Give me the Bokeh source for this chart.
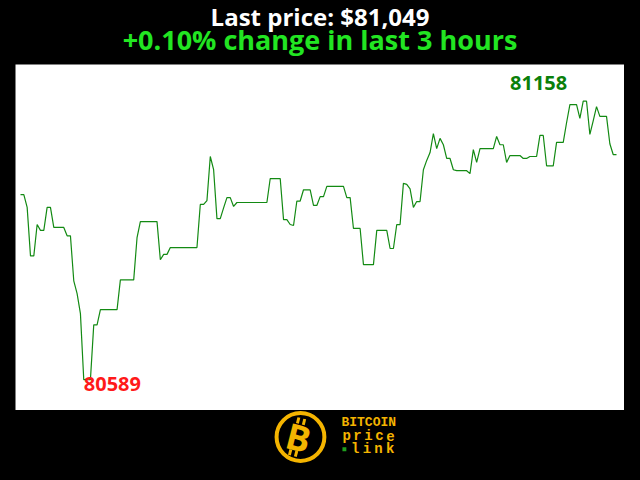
from bokeh.plotting import figure
from bokeh.layouts import column
from bokeh.models import Range1d, GlobalInlineStyleSheet
from bokeh.core.properties import value
from bokeh.embed import file_html
from bokeh.resources import INLINE

# ---- data: BTC price, one point per minute over the last 3 hours ----
prices = [
    80967, 80967, 80941, 80842, 80842, 80906, 80894, 80894, 80941, 80941,
    80900, 80900, 80900, 80900, 80883, 80883, 80791, 80765, 80724, 80589,
    80589, 80589, 80701, 80701, 80732, 80732, 80732, 80732, 80732, 80732,
    80793, 80793, 80793, 80793, 80793, 80879, 80912, 80912, 80912, 80912,
    80912, 80912, 80834, 80845, 80845, 80859, 80859, 80859, 80859, 80859,
    80859, 80859, 80859, 80859, 80947, 80947, 80955, 81045, 81018, 80918,
    80918, 80940, 80961, 80961, 80943, 80951, 80951, 80951, 80951, 80951,
    80951, 80951, 80951, 80951, 80951, 81000, 81000, 81000, 81000, 80916,
    80916, 80906, 80904, 80954, 80954, 80977, 80977, 80977, 80945, 80945,
    80963, 80963, 80984, 80984, 80984, 80984, 80984, 80984, 80961, 80961,
    80898, 80898, 80898, 80824, 80824, 80824, 80824, 80894, 80894, 80894,
    80894, 80857, 80857, 80906, 80906, 80990, 80988, 80979, 80941, 80953,
    80953, 81018, 81037, 81053, 81092, 81061, 81082, 81069, 81041, 81041,
    81018, 81016, 81016, 81016, 81016, 81010, 81059, 81033, 81061, 81061,
    81061, 81061, 81061, 81086, 81069, 81069, 81033, 81047, 81047, 81047,
    81047, 81041, 81041, 81045, 81045, 81045, 81088, 81088, 81026, 81026,
    81026, 81074, 81074, 81074, 81114, 81151, 81151, 81151, 81123, 81158,
    81158, 81090, 81118, 81147, 81127, 81127, 81127, 81071, 81049, 81049,
]
minutes = list(range(len(prices)))
hours = 3

last_price = prices[-1]
change_pct = (prices[-1] - prices[0]) / prices[0] * 100
title_text = f"Last price: ${last_price:,}"
subtitle_text = f"{change_pct:+.2f}% change in last {hours} hours"

hi = max(prices)
lo = min(prices)
i_hi = prices.index(hi)
i_lo = prices.index(lo)

FONT = value("Open Sans")
MONO = value("Liberation Mono")
GOLD = "#f4b400"


def bare(fig):
    fig.grid.visible = False
    return fig


# ---- header ----
head = bare(figure(width=624, height=64, x_range=Range1d(0, 624), y_range=Range1d(0, 64),
                   output_backend="svg", toolbar_location=None,
                   x_axis_location=None, y_axis_location=None, min_border=0,
                   background_fill_color="black", border_fill_color="black",
                   outline_line_color=None))
head.text(x=[312], y=[48.5], text=[title_text], text_font=FONT, text_font_style="bold",
          text_font_size="24px", text_color="white", text_align="center",
          text_baseline="alphabetic")
head.text(x=[312], y=[25], text=[subtitle_text], text_font=FONT, text_font_style="bold",
          text_font_size="27px", text_color="#22e522", text_align="center",
          text_baseline="alphabetic")

# ---- chart ----
p = bare(figure(width=624, height=346, x_range=Range1d(-1.5, 181.4),
                y_range=Range1d(80526, 81233), output_backend="svg",
                toolbar_location=None, x_axis_location=None, y_axis_location=None,
                min_border_left=15, min_border_right=0, min_border_top=0,
                min_border_bottom=0, background_fill_color="white",
                border_fill_color="black", outline_line_color=None))
p.line(x=minutes, y=prices, line_color="#138a13", line_width=1.2)
p.text(x=[i_hi], y=[hi], text=[str(hi)], text_font=FONT, text_font_style="bold",
       text_font_size="20px", text_color="#0a800a", text_align="right",
       text_baseline="alphabetic", x_offset=-16, y_offset=-18)
p.text(x=[i_lo], y=[lo], text=[str(lo)], text_font=FONT, text_font_style="bold",
       text_font_size="20px", text_color="#ff1a1a", text_align="left",
       text_baseline="alphabetic", x_offset=0, y_offset=4)

# ---- footer logo ----
foot = bare(figure(width=624, height=54, x_range=Range1d(0, 624), y_range=Range1d(0, 54),
                   output_backend="svg", toolbar_location=None,
                   x_axis_location=None, y_axis_location=None, min_border=0,
                   background_fill_color="black", border_fill_color="black",
                   outline_line_color=None))
foot.circle(x=[292], y=[27.5], radius=24.5, fill_color="black", line_color=GOLD, line_width=4)
foot.text(x=[290], y=[27], text=["B"], text_font=FONT, text_font_style="bold",
          text_font_size="36px", text_color=GOLD, text_align="center",
          text_baseline="middle", angle=-0.25)
foot.rect(x=[289.6, 295.6, 281.4, 287.5], y=[44.1, 42.6, 12.2, 10.7], width=3, height=6,
          angle=-0.25, fill_color=GOLD, line_color=None)
foot.text(x=[334], y=[42], text=["BITCOIN"], text_font=MONO, text_font_style="bold",
          text_font_size="13px", text_color=GOLD, text_align="left",
          text_baseline="alphabetic")
foot.text(x=[339.3, 350.5, 361.7, 372.9, 384.1], y=[28.3] * 5, text=list("price"),
          text_font=MONO, text_font_style="bold", text_font_size="14px",
          text_color=GOLD, text_align="center", text_baseline="alphabetic")
foot.text(x=[348, 360, 372, 384], y=[16] * 4, text=list("link"),
          text_font=MONO, text_font_style="bold", text_font_size="14px",
          text_color=GOLD, text_align="center", text_baseline="alphabetic")
foot.rect(x=[337], y=[15.3], width=4, height=4, fill_color="#1fa01f", line_color=None)

layout = column(head, p, foot, spacing=0,
                stylesheets=[GlobalInlineStyleSheet(css="body { background: #000; }")])

open("out.html", "w").write(file_html(layout, INLINE))
